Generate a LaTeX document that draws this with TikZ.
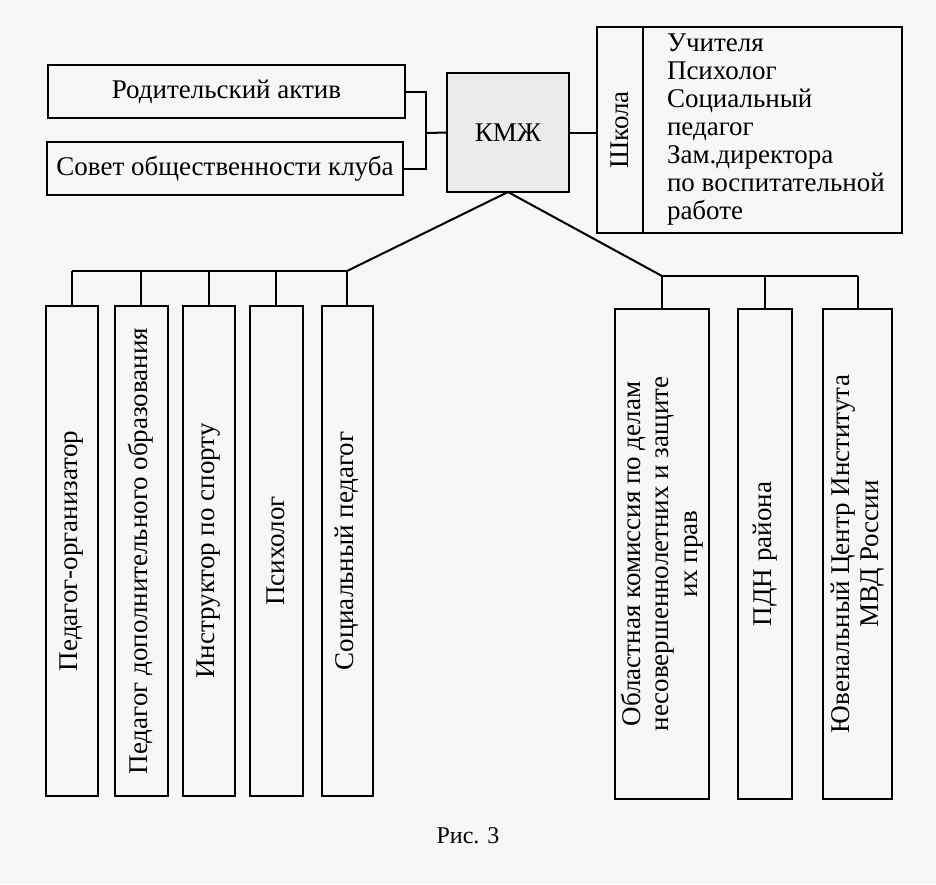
\documentclass[tikz,border=0pt]{standalone}
\usepackage{fontspec}
\setmainfont{Liberation Serif}
\usepackage{tikz}

\begin{document}
\begin{tikzpicture}[x=1pt, y=-1pt,
    box/.style = {draw, line width=2pt, inner sep=0pt, outer sep=0pt, align=center,
                  font=\fontsize{27}{28.5}\selectfont},
    upright/.style = {box, rotate=90, minimum width=490pt},
    wire/.style = {line width=2pt}]
    \fill[black!3] (0,0) rectangle (936,884);
    \useasboundingbox (0,0) rectangle (936,884);

    % top row
    \node (kmzh) [box, fill=black!8, minimum width=122pt, minimum height=119pt] at (508,132.5) {КМЖ};
    \node (ra) [box, minimum width=357pt, minimum height=53pt] at (226.5,91.5) {Родительский актив};
    \node (sov) [box, minimum width=356pt, minimum height=53pt] at (225,168.5) {Совет общественности клуба};
    \node (shk) [box, minimum width=46pt, minimum height=206pt, anchor=west] at (597,130) {\rotatebox{90}{Школа}};
    \node (staff) [box, minimum width=259pt, minimum height=206pt, anchor=west] at (shk.east)
        {\hspace*{24pt}\parbox{235pt}{\fontsize{27}{28}\selectfont\raggedright
         Учителя\\Психолог\\Социальный\\педагог\\Зам.директора\\по воспитательной\\работе}};

    % left group
    \node (p1) [upright, minimum height=52pt] at (72,551) {Педагог-организатор};
    \node (p2) [upright, minimum height=53pt] at (141,551) {Педагог дополнительного образования};
    \node (p3) [upright, minimum height=52pt] at (209,551) {Инструктор по спорту};
    \node (p4) [upright, minimum height=53pt] at (276,551) {Психолог};
    \node (p5) [upright, minimum height=51pt] at (347,551) {Социальный педагог};

    % right group
    \node (o1) [upright, minimum height=94pt] at (662,554) {Областная комиссия по делам\\несовершеннолетних и защите\\их прав};
    \node (o2) [upright, minimum height=54pt] at (765,554) {ПДН района};
    \node (o3) [upright, minimum height=69pt] at (857.5,554) {Ювенальный Центр Института\\МВД России};

    \node (cap) at (468,836) {\fontsize{24}{26}\selectfont Рис. 3};

    \coordinate (lbus) at (347,271);
    \coordinate (rbus) at (662,276);
    \coordinate (side) at (426,133);

    \draw[wire] (ra.east) -| (side) |- (sov.east);
    \draw[wire] (side) -- (kmzh.west);
    \draw[wire] (kmzh.east) -- (kmzh.east -| shk.west);
    \draw[wire] (kmzh.south) -- (lbus);
    \draw[wire] (kmzh.south) -- (rbus);
    \draw[wire] (lbus) -- (lbus -| p1.east);
    \draw[wire] (rbus) -- (rbus -| o3.east);
    \foreach \b in {p1,p2,p3,p4,p5}
        \draw[wire] (lbus -| \b.east) -- (\b.east);
    \foreach \b in {o1,o2,o3}
        \draw[wire] (rbus -| \b.east) -- (\b.east);
\end{tikzpicture}
\end{document}
